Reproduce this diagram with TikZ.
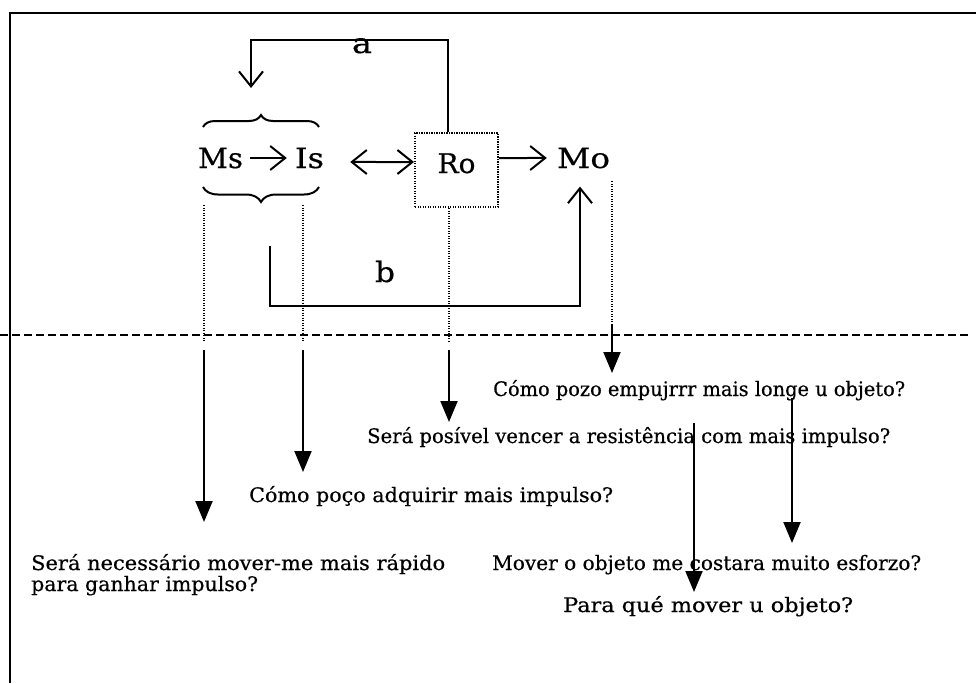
\documentclass[tikz,border=0pt]{standalone}
\usepackage{fontspec}
\setmainfont[FakeBold=0.5]{DejaVu Serif}
\usetikzlibrary{arrows.meta,decorations.pathreplacing}
\newcommand{\fitw}[2]{\resizebox{#1}{\height}{#2}}
\begin{document}
\begin{tikzpicture}[x=1pt,y=-1pt,
  big/.style={inner sep=0pt, anchor=base, font=\fontsize{28}{30}\selectfont},
  qtext/.style={inner sep=0pt, anchor=base west, font=\fontsize{20}{20}\selectfont},
  conn/.style={line width=2pt},
  openarr/.style={conn, -{Straight Barb[length=15pt,width=24pt,line width=2pt]}},
  fillarr/.style={conn, -{Triangle[length=21pt,width=17pt]}},
  dots/.style={line width=1.6pt, dash pattern=on 1.2pt off 1.3pt},
  bracestyle/.style={line width=2pt, decorate},
]
\useasboundingbox (0,0) rectangle (976,683);
% frame
\draw[line width=2.5pt] (976,13) -- (10,13) -- (10,683);
% main nodes
\node[big] (ms) at (220.5,168) {\fitw{45pt}{Ms}};
\node[big] (is) at (309.5,168) {\fitw{29pt}{Is}};
\node[draw, line width=2pt, dash pattern=on 1.2pt off 1.3pt, inner sep=0pt,
      minimum width=83pt, minimum height=74pt, text height=20pt, text depth=14pt,
      font=\fontsize{27}{30}\selectfont] (ro) at (456.5,170) {\fitw{38pt}{Ro}};
\node[big] (mo) at (583.5,168) {\fitw{53pt}{Mo}};
\node[big] (a) at (362,53) {\fitw{20pt}{a}};
\node[big] (b) at (385,282) {\fitw{20pt}{b}};
% braces
\draw[bracestyle, decoration={brace, amplitude=12pt}] (203,127) -- (319,127);
\draw[bracestyle, decoration={brace, amplitude=15pt}] (319,187) -- (203,187);
% arrows in the upper part
\draw[openarr] ([xshift=7pt]ms.east) -- ([xshift=-8pt]is.west);
\draw[conn, {Straight Barb[length=15pt,width=24pt,line width=2pt]}-{Straight Barb[length=15pt,width=24pt,line width=2pt]}]
  ([xshift=26pt,yshift=-4pt]is.east) -- ([yshift=8pt]ro.west);
\draw[openarr] ([yshift=12pt]ro.east) -- ([xshift=-10pt]mo.west);
\coordinate (acorner) at (251,40);
\coordinate (atip) at (251,88);
\draw[openarr] ([xshift=-8.5pt]ro.north) |- (acorner) -- (atip);
\coordinate (bstart) at (270,246);
\coordinate (bcorner) at (270,306);
\draw[openarr] (bstart) -- (bcorner) -| ([xshift=-3.5pt,yshift=-18pt]mo.south);
% dashed separator
\coordinate (sepL) at (0,335);
\coordinate (sepR) at (970,335);
\draw[line width=2pt, dash pattern=on 8pt off 4pt] (sepL) -- (sepR);
% questions
\node[qtext] (q1) at (493,396) {\fitw{412pt}{Cómo pozo empujrrr mais longe u objeto?}};
\node[qtext] (q2) at (367,443) {\fitw{523pt}{Será posível vencer a resistência com mais impulso?}};
\node[qtext] (q3) at (249,502) {\fitw{364pt}{Cómo poço adquirir mais impulso?}};
\node[qtext] (q4a) at (31,570) {\fitw{414pt}{Será necessário mover-me mais rápido}};
\node[qtext] (q4b) at (31,591) {\fitw{227pt}{para ganhar impulso?}};
\node[qtext] (q5) at (492,570) {\fitw{429pt}{Mover o objeto me costara muito esforzo?}};
\node[qtext] (q6) at (563,612) {\fitw{290pt}{Para qué mover u objeto?}};
% dotted guides
\coordinate (d1a) at (204,205); \coordinate (d1b) at (204,342);
\coordinate (d2a) at (303,205); \coordinate (d2b) at (303,342);
\coordinate (d3b) at (449,342);
\coordinate (d4a) at (612,181); \coordinate (d4b) at (612,325);
\draw[dots] (d1a) -- (d1b);
\draw[dots] (d2a) -- (d2b);
\draw[dots] ([xshift=-7.5pt]ro.south) -- (d3b);
\draw[dots] (d4a) -- (d4b);
% solid arrows down
\coordinate (s1a) at (204,350); \coordinate (s1b) at (204,522);
\coordinate (s2a) at (303,350); \coordinate (s2b) at (303,472);
\coordinate (s3a) at (449,350); \coordinate (s3b) at (449,422);
\coordinate (s4b) at (612,373);
\coordinate (s5a) at (792,398); \coordinate (s5b) at (792,543);
\coordinate (s6a) at (694,423); \coordinate (s6b) at (694,592);
\draw[fillarr] (s1a) -- (s1b);
\draw[fillarr] (s2a) -- (s2b);
\draw[fillarr] (s3a) -- (s3b);
\draw[fillarr] (d4b) -- (s4b);
\draw[fillarr] (s5a) -- (s5b);
\draw[fillarr] (s6a) -- (s6b);
\end{tikzpicture}
\end{document}
